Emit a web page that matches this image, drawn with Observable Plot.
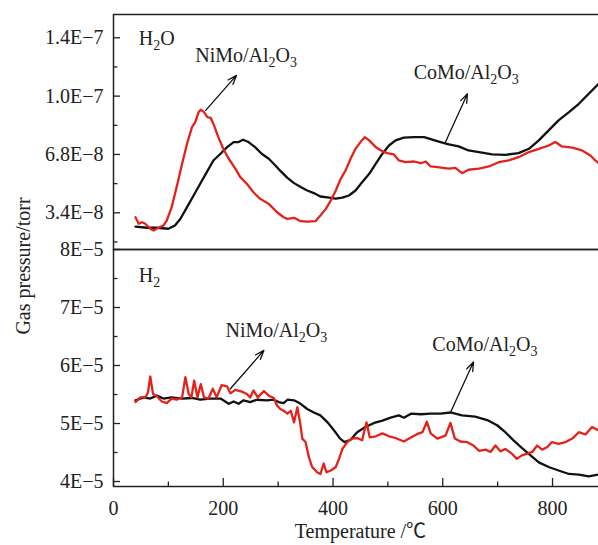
<!DOCTYPE html>
<html><head><meta charset="utf-8">
<script src="https://cdn.jsdelivr.net/npm/d3@7"></script>
<script src="https://cdn.jsdelivr.net/npm/@observablehq/plot@0.6"></script>
<style>
html,body{margin:0;padding:0;background:#fff;overflow:hidden;}
#wrap{position:relative;width:598px;height:545px;overflow:hidden;font-family:"Liberation Serif","Times New Roman","Noto Sans CJK SC",serif;color:#222;}
#wrap svg{position:absolute;left:0;max-width:none !important;}
#ylab{position:absolute;left:23px;top:266px;transform:translate(-50%,-50%) rotate(-90deg);font-size:20px;white-space:nowrap;}
</style></head><body><div id="wrap"><div id="ylab">Gas pressure/torr</div></div>
<script>
// ---------- data ----------
// temperature (°C) readings
const h2oNiMoT = [40,46,52,58,67,73,82,91,97,106,115,125,134,143,149,155,159,165,171,177,182,191,200,210,222,231,243,255,267,283,298,310,317,329,341,353,368,377,387,396,405,414,423,432,441,450,458,466,478,490,499,511,520,532,548,560,569,578,590,611,623,635,647,666,684,702,720,738,757,775,793,805,817,836,854,869,878,884];
// H2O pressure, units of 1E-8 torr
const h2oNiMoV = [3.14,2.76,2.85,2.76,2.47,2.37,2.53,2.66,2.95,3.73,4.89,6.26,7.39,8.30,8.57,9.12,9.25,9.12,8.85,8.81,8.49,7.75,7.11,6.55,5.97,5.48,5.09,4.60,4.22,3.92,3.43,3.14,3.05,3.11,2.91,2.89,2.91,3.24,3.63,4.12,4.70,5.38,5.87,6.55,7.11,7.48,7.75,7.57,7.20,6.98,6.87,6.80,6.45,6.35,6.39,6.29,6.39,6.10,6.06,5.97,6.02,5.71,5.91,5.97,6.10,6.35,6.45,6.64,6.93,7.11,7.29,7.48,7.24,7.17,7.02,6.74,6.45,6.29];
const h2oCoMoT = [40,61,79,100,112,122,134,146,158,170,182,195,207,219,228,236,246,258,270,283,295,305,317,329,341,353,365,377,393,405,417,429,441,453,466,478,490,502,514,529,548,566,581,596,611,629,647,666,690,714,738,757,775,793,811,830,848,866,884];
const h2oCoMoV = [2.60,2.53,2.53,2.47,2.66,3.05,3.73,4.41,5.09,5.77,6.45,6.84,7.20,7.48,7.48,7.61,7.48,7.20,6.84,6.55,6.16,5.81,5.44,5.13,4.90,4.70,4.55,4.35,4.28,4.22,4.28,4.41,4.70,5.18,5.67,6.26,6.84,7.29,7.57,7.72,7.75,7.75,7.61,7.48,7.35,7.24,7.02,6.93,6.80,6.78,6.87,7.11,7.57,8.12,8.67,9.12,9.58,10.16,10.85];
// H2 pressure, units of 1E-5 torr
const h2NiMoT = [40,49,58,63,67,72,79,88,97,106,115,125,131,137,142,147,153,159,165,173,181,188,197,207,213,222,234,243,249,255,263,274,283,292,298,304,310,317,323,329,335,340,344,350,356,362,371,377,383,388,396,405,411,417,426,435,444,453,461,467,478,490,502,514,529,542,554,563,571,578,590,605,614,622,632,644,656,666,678,687,696,705,714,726,735,744,754,763,772,781,790,799,811,824,836,848,860,872,884];
const h2NiMoV = [5.37,5.45,5.45,5.54,5.81,5.51,5.47,5.38,5.35,5.43,5.41,5.45,5.80,5.51,5.45,5.74,5.45,5.68,5.45,5.43,5.60,5.45,5.66,5.64,5.52,5.58,5.55,5.51,5.45,5.57,5.45,5.56,5.48,5.44,5.31,5.25,5.22,5.17,5.22,5.02,5.28,5.02,4.74,4.68,4.42,4.25,4.16,4.13,4.31,4.16,4.19,4.25,4.39,4.56,4.68,4.74,4.75,4.71,5.02,4.76,4.78,4.83,4.78,4.75,4.69,4.76,4.82,4.85,5.03,4.83,4.74,4.79,5.01,4.74,4.69,4.68,4.62,4.53,4.55,4.51,4.62,4.52,4.56,4.48,4.39,4.45,4.48,4.51,4.62,4.55,4.59,4.68,4.65,4.68,4.74,4.85,4.81,4.94,4.88];
const h2CoMoT = [40,55,67,79,91,106,125,143,158,176,195,210,219,228,237,249,261,280,292,301,310,317,329,341,353,365,377,390,402,413,421,432,444,459,475,490,505,520,529,542,560,578,596,614,635,659,681,699,714,729,744,760,775,793,811,830,848,866,884];
const h2CoMoV = [5.40,5.45,5.43,5.48,5.43,5.45,5.43,5.44,5.41,5.43,5.43,5.34,5.38,5.34,5.40,5.37,5.41,5.40,5.41,5.37,5.35,5.41,5.40,5.34,5.25,5.19,5.14,5.02,4.88,4.74,4.68,4.72,4.85,4.94,5.01,5.05,5.10,5.14,5.10,5.17,5.16,5.17,5.17,5.19,5.14,5.12,5.06,4.97,4.85,4.71,4.58,4.45,4.33,4.25,4.19,4.13,4.12,4.09,4.12];

// axes
const xMajor = [0,200,400,600,800];
const xMinor = [100,300,500,700];
const h2oTickVals = [3.4,6.8,10,14];
const h2oTickLabels = ["3.4E\u22128","6.8E\u22128","1.0E\u22127","1.4E\u22127"];
const h2oMinor = [1.7,5.1,8.4,12];
const h2TickVals = [4,5,6,7,8];
const h2TickLabels = ["4E\u22125","5E\u22125","6E\u22125","7E\u22125","8E\u22125"];
const h2Minor = [4.5,5.5,6.5,7.5];

// annotations
const h2oLabels = [
  {T: 46, v: 13.97, text: "H\u2082O"},
  {T: 149, v: 12.79, text: "NiMo/Al\u2082O\u2083"},
  {T: 547, v: 11.59, text: "CoMo/Al\u2082O\u2083"}
];
const h2oArrows = [
  {T1: 168, v1: 9.22, T2: 224, v2: 11.42},
  {T1: 605, v1: 7.48, T2: 645, v2: 10.16}
];
const h2Labels = [
  {T: 46, v: 7.55, text: "H\u2082"},
  {T: 204, v: 6.60, text: "NiMo/Al\u2082O\u2083"},
  {T: 581, v: 6.36, text: "CoMo/Al\u2082O\u2083"}
];
const h2Arrows = [
  {T1: 213, v1: 5.60, T2: 274, v2: 6.26},
  {T1: 614, v1: 5.19, T2: 656, v2: 6.06}
];

// ---------- build ----------
const zip = (T, V, s) => T.map((t, i) => ({T: t, v: V[i], s}));
const h2oData = [...zip(h2oCoMoT, h2oCoMoV, "CoMo"), ...zip(h2oNiMoT, h2oNiMoV, "NiMo")];
const h2Data = [...zip(h2CoMoT, h2CoMoV, "CoMo"), ...zip(h2NiMoT, h2NiMoV, "NiMo")];

const W = 620, ML = 113, MR = 13.1;
const PW = W - ML - MR;
const RED = "#e3221b", BLACK = "#111";
const FONT = '"Liberation Serif","Times New Roman","Noto Sans CJK SC",serif';
const baseStyle = {fontFamily: FONT, fontSize: "20px", background: "transparent", maxWidth: "none", overflow: "visible", color: "#222"};

function panelMarks(data, labels, arrows, majors, minors, labelsText) {
  return [
    Plot.line(data, {x: "T", y: "v", z: "s", stroke: d => d.s === "NiMo" ? RED : BLACK, strokeWidth: 2.3, strokeLinejoin: "round"}),
    Plot.arrow(arrows, {x1: "T1", y1: "v1", x2: "T2", y2: "v2", stroke: "#111", strokeWidth: 1.3, headLength: 11, headAngle: 40}),
    Plot.text(labels, {x: "T", y: "v", text: "text", textAnchor: "start", fontSize: 20, fill: "#222"}),
    Plot.tickY(majors, {y: d => d, insetRight: PW - 7, stroke: "#222", strokeWidth: 1.3}),
    Plot.tickY(minors, {y: d => d, insetRight: PW - 4.5, stroke: "#222", strokeWidth: 1.3}),
    Plot.axisY(majors, {tickSize: 0, tickPadding: 10, tickFormat: d => labelsText[majors.indexOf(d)], fontSize: 20, fill: "#222"}),
    Plot.frame({stroke: "#222", strokeWidth: 1.5})
  ];
}

// The H2O axis labels are equally spaced although their values are not:
// map values piecewise onto equally spaced tick positions (0,1,2,3).
const h2oPiece = d3.scaleLinear().domain(h2oTickVals).range([0, 1, 2, 3]);

const upper = Plot.plot({
  width: W, height: 250, marginTop: 14, marginBottom: 1, marginLeft: ML, marginRight: MR,
  style: baseStyle,
  x: {domain: [0, 900], axis: null},
  y: {transform: v => h2oPiece(v), domain: [-0.629, 3.399], axis: null},
  marks: panelMarks(h2oData, h2oLabels, h2oArrows, h2oTickVals, h2oMinor, h2oTickLabels)
});

const LH = 298, LMT = 2, LMB = 59;
const lower = Plot.plot({
  width: W, height: LH, marginTop: LMT, marginBottom: LMB, marginLeft: ML, marginRight: MR,
  style: baseStyle,
  x: {domain: [0, 900], axis: null},
  y: {domain: [3.914, 8], axis: null},
  marks: [
    ...panelMarks(h2Data, h2Labels, h2Arrows, h2TickVals, h2Minor, h2TickLabels),
    Plot.tickX(xMajor, {x: d => d, insetTop: (LH - LMT - LMB) - 8, stroke: "#222", strokeWidth: 1.3}),
    Plot.tickX(xMinor, {x: d => d, insetTop: (LH - LMT - LMB) - 4.5, stroke: "#222", strokeWidth: 1.3}),
    Plot.axisX(xMajor, {tickSize: 0, tickPadding: 14, label: null, fontSize: 20, fill: "#222"}),
    Plot.text(["Temperature /\u2103"], {frameAnchor: "bottom", dy: 51, text: d => d, fontSize: 20, fill: "#222"})
  ]
});

function subscripts(svg) {
  svg.querySelectorAll("text").forEach(t => {
    const s = t.textContent;
    if (!/[\u2082\u2083]/.test(s)) return;
    while (t.firstChild) t.removeChild(t.firstChild);
    let sub = false;
    for (const part of s.match(/[\u2082\u2083]+|[^\u2082\u2083]+/g)) {
      const ts = document.createElementNS("http://www.w3.org/2000/svg", "tspan");
      if (/[\u2082\u2083]/.test(part)) {
        ts.textContent = part.replace(/\u2082/g, "2").replace(/\u2083/g, "3");
        ts.setAttribute("font-size", "14");
        ts.setAttribute("dy", "5");
        sub = true;
      } else {
        ts.textContent = part;
        if (sub) ts.setAttribute("dy", "-5");
        sub = false;
      }
      t.appendChild(ts);
    }
  });
}
subscripts(upper); subscripts(lower);

upper.style.top = "0px";
lower.style.top = "247px";
const wrap = document.getElementById("wrap");
wrap.insertBefore(upper, wrap.firstChild);
wrap.insertBefore(lower, wrap.firstChild);
</script></body></html>
